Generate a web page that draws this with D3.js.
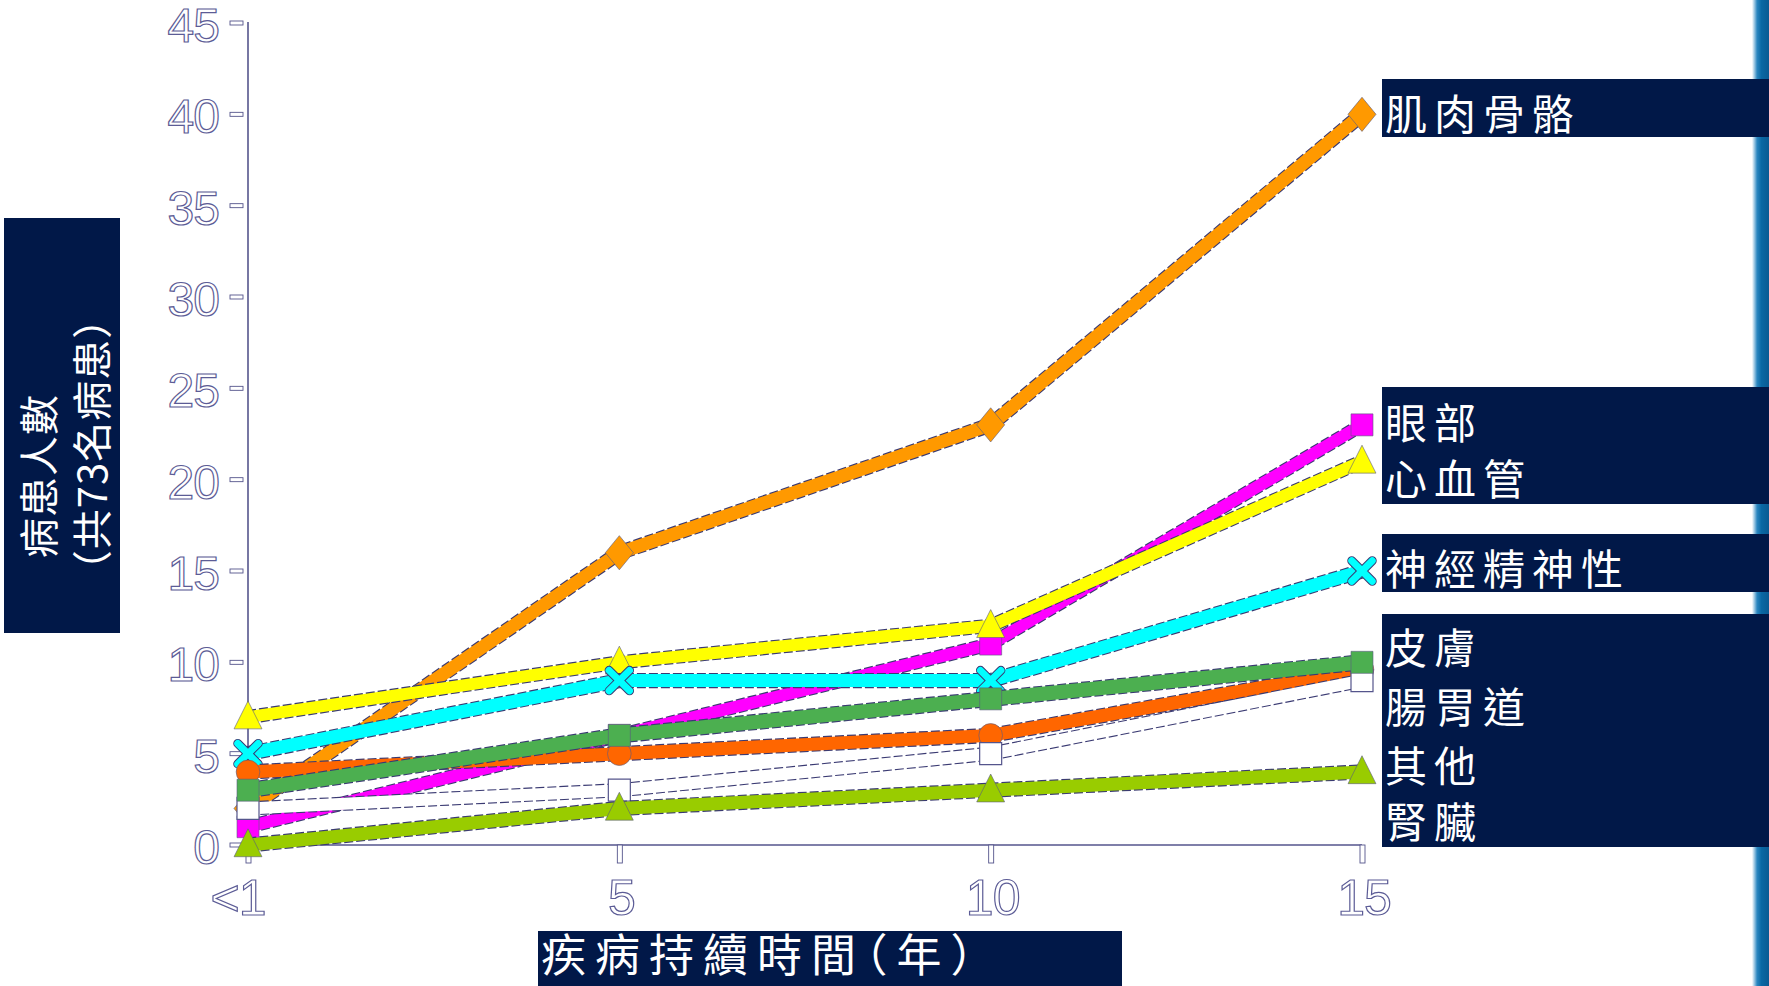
<!DOCTYPE html>
<html><head><meta charset="utf-8">
<script src="https://cdn.jsdelivr.net/npm/d3@7"></script>
<style>html,body{margin:0;padding:0;background:#fff;overflow:hidden}
.halt{font-feature-settings:"halt" 1;}</style>
</head><body>
<script>
// ---------- DATA ----------
const categories = ["<1", "5", "10", "15"];
const yTicks = [0, 5, 10, 15, 20, 25, 30, 35, 40, 45];
const seriesNames = ["肌肉骨骼", "眼部", "心血管", "神經精神性", "皮膚", "腸胃道", "其他", "腎臟"];
const musculoskeletal = [2, 16, 23, 40];
const eye = [1, 6, 11, 23];
const cardiovascular = [7, 10, 12, 21];
const neuropsychiatric = [5, 9, 9, 15];
const skin = [3, 6, 8, 10];
const gastrointestinal = [4, 5, 6, 9.6];
const other = [2, 3, 5, 9];
const kidney = [0, 2, 3, 4];
const legendGroups = [["肌肉骨骼"], ["眼部", "心血管"], ["神經精神性"], ["皮膚", "腸胃道", "其他", "腎臟"]];
const yTitleLines = ["病患人數", "（共73名病患）"];
const xTitle = "疾病持續時間（年）";

// ---------- SETUP ----------
const W = 1769, H = 986;
const NAVY = "#011848";
const AX = "#55558c";
const svg = d3.select("body").append("svg").attr("width", W).attr("height", H);
const defs = svg.append("defs");
const grad = defs.append("linearGradient").attr("id", "strip").attr("x1", 0).attr("x2", 1).attr("y1", 0).attr("y2", 0);
grad.append("stop").attr("offset", "0").attr("stop-color", "#ffffff");
grad.append("stop").attr("offset", "0.3").attr("stop-color", "#2a86c0");
grad.append("stop").attr("offset", "0.55").attr("stop-color", "#0a68a4");
grad.append("stop").attr("offset", "1").attr("stop-color", "#0a5a92");
svg.append("rect").attr("x", 1752).attr("y", 0).attr("width", 17).attr("height", H).attr("fill", "url(#strip)");

const x = d3.scalePoint().domain(categories).range([248, 1362]);
const y = d3.scaleLinear().domain([0, 45]).range([845, 23]);

// ---------- AXES ----------
const tickFont = "'Liberation Sans', Arial, sans-serif";
const gY = svg.append("g");
gY.append("line").attr("x1", 248).attr("x2", 248).attr("y1", y(45) - 1).attr("y2", y(0))
  .attr("stroke", AX).attr("stroke-width", 1.6);
gY.selectAll("rect.yt").data(yTicks).join("rect").attr("class", "yt")
  .attr("x", 230).attr("y", d => y(d) - 2).attr("width", 13).attr("height", 4)
  .attr("fill", "#fff").attr("stroke", AX).attr("stroke-width", 0.9);
gY.selectAll("text").data(yTicks).join("text")
  .attr("x", 219).attr("y", d => y(d) + 19)
  .attr("text-anchor", "end").attr("font-family", tickFont).attr("font-size", 48)
  .attr("fill", "#fff").attr("stroke", "#5c5c96").attr("stroke-width", 1.2)
  .attr("letter-spacing", -1)
  .text(d => d);

const gX = svg.append("g");
gX.append("line").attr("x1", 248).attr("x2", 1362).attr("y1", y(0)).attr("y2", y(0))
  .attr("stroke", AX).attr("stroke-width", 1.6);
gX.selectAll("rect").data(categories).join("rect")
  .attr("x", d => x(d) - 2).attr("y", y(0)).attr("width", 5).attr("height", 18)
  .attr("fill", "#fff").attr("stroke", AX).attr("stroke-width", 0.9);
gX.selectAll("text").data(categories).join("text")
  .attr("x", (d, i) => x(d) + (i === 0 ? -10 : 2)).attr("y", 915)
  .attr("text-anchor", "middle").attr("font-family", tickFont).attr("font-size", 50)
  .attr("fill", "#fff").attr("stroke", "#5c5c96").attr("stroke-width", 1.2)
  .attr("letter-spacing", -1)
  .text(d => d);

// ---------- CUSTOM SYMBOLS ----------
const rhombus = { draw(ctx, size) { const h = Math.sqrt(size) * 0.62, w = h * 0.82;
  ctx.moveTo(0, -h); ctx.lineTo(w, 0); ctx.lineTo(0, h); ctx.lineTo(-w, 0); ctx.closePath(); } };
const tri = { draw(ctx, size) { const s = Math.sqrt(size);
  ctx.moveTo(0, -s * 0.58); ctx.lineTo(s * 0.5, s * 0.42); ctx.lineTo(-s * 0.5, s * 0.42); ctx.closePath(); } };
const sq = { draw(ctx, size) { const s = Math.sqrt(size) / 2; ctx.rect(-s, -s, 2 * s, 2 * s); } };
const cross = { draw(ctx, size) { const s = Math.sqrt(size) / 2;
  ctx.moveTo(-s, -s); ctx.lineTo(s, s); ctx.moveTo(s, -s); ctx.lineTo(-s, s); } };

// ---------- SERIES (drawn in stacking order) ----------
const series = [
  { name: seriesNames[0], values: musculoskeletal, color: "#FF9900", sym: rhombus, size: 760, lw: 13 },
  { name: seriesNames[1], values: eye, color: "#FF00FF", sym: sq, size: 484, lw: 12 },
  { name: seriesNames[2], values: cardiovascular, color: "#FFFF00", sym: tri, size: 780, lw: 12 },
  { name: seriesNames[3], values: neuropsychiatric, color: "#00FFFF", sym: cross, size: 420, lw: 13, stroke: true },
  { name: seriesNames[5], values: gastrointestinal, color: "#FF6600", sym: d3.symbolCircle, size: 440, lw: 13 },
  { name: seriesNames[6], values: other, color: "#FFFFFF", sym: sq, size: 484, lw: 12 },
  { name: seriesNames[4], values: skin, color: "#4CAF50", sym: sq, size: 484, lw: 14 },
  { name: seriesNames[7], values: kidney, color: "#99CC00", sym: tri, size: 780, lw: 13 }
];

const line = d3.line().x((d, i) => x(categories[i])).y(d => y(d));
series.forEach(s => {
  const g = svg.append("g");
  g.append("path").attr("d", line(s.values)).attr("fill", "none")
    .attr("stroke", "#3a3a72").attr("stroke-width", s.lw + 2.2)
    .attr("stroke-dasharray", "9,3");
  g.append("path").attr("d", line(s.values)).attr("fill", "none")
    .attr("stroke", s.color).attr("stroke-width", s.lw).attr("stroke-linejoin", "miter");
  const sym = d3.symbol().type(s.sym).size(s.size);
  const pts = g.selectAll("g.m").data(s.values).join("g").attr("class", "m")
    .attr("transform", (d, i) => `translate(${x(categories[i])},${y(d)})`);
  if (s.stroke) {
    pts.append("path").attr("d", sym()).attr("fill", "none").attr("stroke", "#3a3a72")
      .attr("stroke-width", 9).attr("stroke-linecap", "round");
    pts.append("path").attr("d", sym()).attr("fill", "none").attr("stroke", s.color)
      .attr("stroke-width", 7).attr("stroke-linecap", "round");
  } else {
    pts.append("path").attr("d", sym()).attr("fill", s.color)
      .attr("stroke", s.color === "#FFFFFF" ? "#55558c" : "#5a5a80").attr("stroke-width", s.color === "#FFFFFF" ? 1.2 : 0.6);
  }
});

// ---------- LEGEND BOXES ----------
const cjk = "'Noto Sans CJK TC', 'Noto Sans CJK SC', sans-serif";
const boxes = [
  { y0: 79, y1: 137, lines: [111] },
  { y0: 387, y1: 504, lines: [420, 476] },
  { y0: 534, y1: 592, lines: [566] },
  { y0: 614, y1: 847, lines: [645, 704, 763, 819] }
];
legendGroups.forEach((grp, gi) => {
  const b = boxes[gi];
  svg.append("rect").attr("x", 1382).attr("y", b.y0).attr("width", 1769 - 1382).attr("height", b.y1 - b.y0).attr("fill", NAVY);
  svg.selectAll(null).data(grp).join("text")
    .attr("x", 1385).attr("y", (d, i) => b.lines[i])
    .attr("dominant-baseline", "central")
    .attr("font-family", cjk).attr("font-size", 42).attr("fill", "#fff")
    .attr("letter-spacing", 7)
    .text(d => d);
});

// ---------- AXIS TITLES ----------
svg.append("rect").attr("x", 4).attr("y", 218).attr("width", 116).attr("height", 415).attr("fill", NAVY);
const yt = [{ t: yTitleLines[0], cx: 37, cy: 476 }, { t: yTitleLines[1], cx: 90, cy: 444 }];
svg.selectAll(null).data(yt).join("text")
  .attr("transform", d => `translate(${d.cx},${d.cy}) rotate(-90)`)
  .attr("text-anchor", "middle").attr("dominant-baseline", "central")
  .attr("font-family", cjk).attr("font-size", 40).attr("fill", "#fff")
  .attr("letter-spacing", 1)
  .text(d => d.t);

svg.append("rect").attr("x", 538).attr("y", 931).attr("width", 584).attr("height", 55).attr("fill", NAVY);
svg.append("text").attr("class", "halt").attr("x", 541).attr("y", 952).attr("dominant-baseline", "central")
  .attr("font-family", cjk).attr("font-size", 45).attr("fill", "#fff").attr("letter-spacing", 9)
  .text(xTitle);
</script>
</body></html>
